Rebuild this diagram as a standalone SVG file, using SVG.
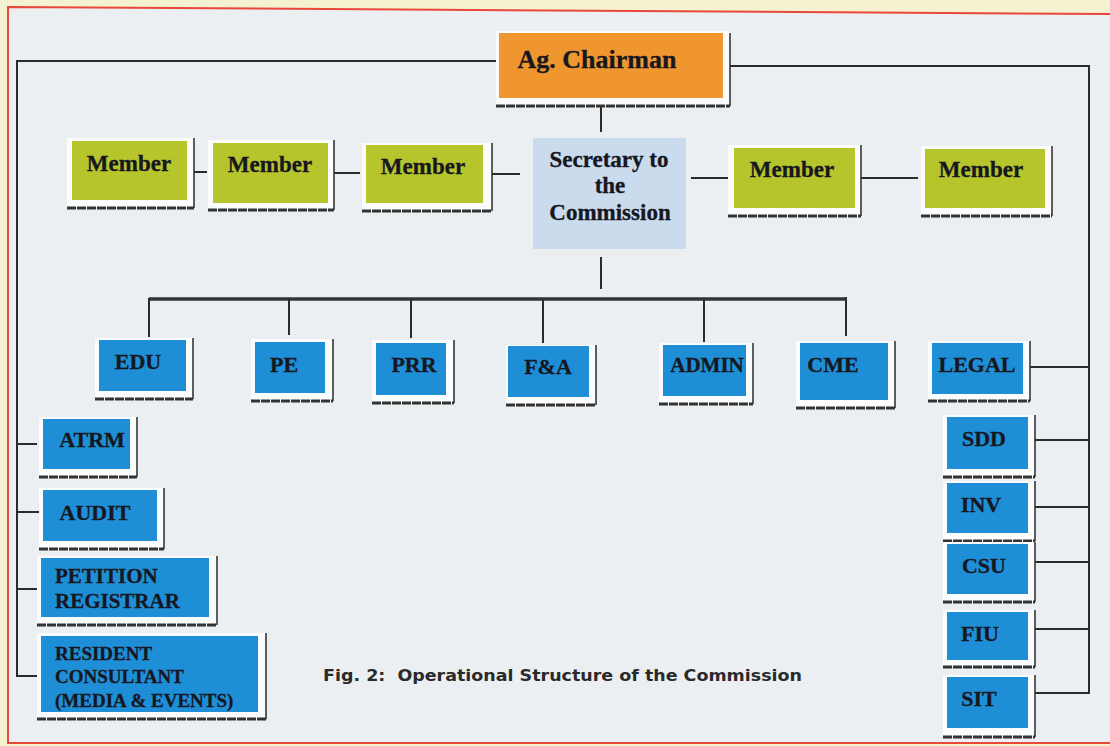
<svg xmlns="http://www.w3.org/2000/svg" width="1110" height="746" viewBox="0 0 1110 746">
<defs>
<style>
.bg{fill:#f5f2d2}
.frame{fill:#eceff2;stroke:#e8473a;stroke-width:2}
.back{fill:#fbfcfd}
.chair{fill:#f0962e}
.sec{fill:#c9dbec}
.mem{fill:#b6c52c}
.blue{fill:#1e8fd6}
.sh{fill:none;stroke:#353535;stroke-width:1.6}
.shb{fill:none;stroke:#333;stroke-width:3;stroke-dasharray:9 1}
.conn{fill:none;stroke:#2b2b2b;stroke-width:2}
.bar{fill:none;stroke:#333;stroke-width:3.5}
.t{font-family:"Liberation Serif","Times New Roman",serif;font-weight:bold;fill:#17171f;stroke:#17171f;stroke-width:0.3}
.c{text-anchor:middle}
.cap{font-family:"DejaVu Sans",Verdana,sans-serif;font-weight:bold;fill:#2a2a2a;font-size:16px}
</style>
</defs>
<rect class="bg" x="0" y="0" width="1110" height="746"/>
<path class="frame" d="M8 7 L1112 14 L1112 743 L8 743 Z"/>

<g id="connectors">
<path class="conn" d="M499 61 H17 V676 H40"/>
<path class="conn" d="M17 444 H37 M17 512 H40 M17 589 H40"/>
<path class="conn" d="M730 66 H1089 V693 H1035"/>
<path class="conn" d="M1030 367 H1089 M1035 440 H1089 M1035 507 H1089 M1035 562 H1089 M1035 629 H1089"/>
<path class="conn" d="M601 106 V132"/>
<path class="conn" d="M194 172 H207 M334 173 H360 M492 174 H520 M691 178 H728 M861 178 H918"/>
<path class="conn" d="M601 257 V289"/>
<path class="bar" d="M149 299 H846"/>
<path class="conn" d="M149 298 V337 M289 298 V335 M411 298 V338 M543 300 V343 M704 300 V342 M846 297 V336"/>
</g>

<g id="chairman">
<rect class="back" x="496" y="31" width="234" height="75"/>
<rect class="chair" x="499" y="33" width="224" height="65"/>
<path class="sh" d="M730 33 V106"/><path class="shb" d="M496 106 H730"/>
<text class="t c" x="597" y="68" font-size="26">Ag. Chairman</text>
</g>

<g id="secretary">
<rect class="sec" x="533" y="138" width="153" height="111"/>
<text class="t c" font-size="23"><tspan x="609" y="167">Secretary to</tspan><tspan x="610" y="193">the</tspan><tspan x="610" y="220">Commission</tspan></text>
</g>

<g id="member1">
<rect class="back" x="67" y="138" width="127" height="70"/>
<rect class="mem" x="72" y="141" width="115" height="59"/>
<path class="sh" d="M194 138 V208"/><path class="shb" d="M67 208 H194"/>
<text class="t c" x="129" y="171" font-size="23">Member</text>
</g>
<g id="member2">
<rect class="back" x="208" y="140" width="126" height="70"/>
<rect class="mem" x="213" y="143" width="115" height="60"/>
<path class="sh" d="M334 140 V210"/><path class="shb" d="M208 210 H334"/>
<text class="t c" x="270" y="172" font-size="23">Member</text>
</g>
<g id="member3">
<rect class="back" x="362" y="143" width="130" height="68"/>
<rect class="mem" x="366" y="145" width="117" height="58"/>
<path class="sh" d="M492 143 V211"/><path class="shb" d="M362 211 H492"/>
<text class="t c" x="423" y="174" font-size="23">Member</text>
</g>
<g id="member4">
<rect class="back" x="728" y="145" width="133" height="71"/>
<rect class="mem" x="734" y="148" width="121" height="60"/>
<path class="sh" d="M861 145 V216"/><path class="shb" d="M728 216 H861"/>
<text class="t c" x="792" y="177" font-size="23">Member</text>
</g>
<g id="member5">
<rect class="back" x="921" y="146" width="131" height="70"/>
<rect class="mem" x="925" y="149" width="120" height="59"/>
<path class="sh" d="M1052 146 V216"/><path class="shb" d="M921 216 H1052"/>
<text class="t c" x="981" y="177" font-size="23">Member</text>
</g>

<g id="edu">
<rect class="back" x="95" y="338" width="98" height="61"/>
<rect class="blue" x="99" y="340" width="87" height="51"/>
<path class="sh" d="M193 338 V399"/><path class="shb" d="M95 399 H193"/>
<text class="t c" x="138" y="369" font-size="22">EDU</text>
</g>
<g id="pe">
<rect class="back" x="251" y="339" width="82" height="62"/>
<rect class="blue" x="255" y="342" width="70" height="51"/>
<path class="sh" d="M333 339 V401"/><path class="shb" d="M251 401 H333"/>
<text class="t c" x="284" y="372" font-size="22">PE</text>
</g>
<g id="prr">
<rect class="back" x="372" y="340" width="82" height="63"/>
<rect class="blue" x="376" y="343" width="70" height="52"/>
<path class="sh" d="M454 340 V403"/><path class="shb" d="M372 403 H454"/>
<text class="t c" x="414" y="372" font-size="22">PRR</text>
</g>
<g id="fa">
<rect class="back" x="506" y="345" width="90" height="60"/>
<rect class="blue" x="508" y="346" width="81" height="51"/>
<path class="sh" d="M596 345 V405"/><path class="shb" d="M506 405 H596"/>
<text class="t c" x="548" y="374" font-size="22">F&amp;A</text>
</g>
<g id="admin">
<rect class="back" x="659" y="343" width="94" height="61"/>
<rect class="blue" x="663" y="345" width="83" height="51"/>
<path class="sh" d="M753 343 V404"/><path class="shb" d="M659 404 H753"/>
<text class="t c" x="707" y="372" font-size="21">ADMIN</text>
</g>
<g id="cme">
<rect class="back" x="796" y="341" width="99" height="67"/>
<rect class="blue" x="800" y="343" width="88" height="57"/>
<path class="sh" d="M895 341 V408"/><path class="shb" d="M796 408 H895"/>
<text class="t c" x="833" y="372" font-size="22">CME</text>
</g>
<g id="legal">
<rect class="back" x="928" y="341" width="102" height="60"/>
<rect class="blue" x="932" y="343" width="91" height="51"/>
<path class="sh" d="M1030 341 V401"/><path class="shb" d="M928 401 H1030"/>
<text class="t c" x="977" y="372" font-size="22">LEGAL</text>
</g>

<g id="atrm">
<rect class="back" x="39" y="417" width="98" height="60"/>
<rect class="blue" x="43" y="419" width="87" height="50"/>
<path class="sh" d="M137 417 V477"/><path class="shb" d="M39 477 H137"/>
<text class="t c" x="92" y="447" font-size="22">ATRM</text>
</g>
<g id="audit">
<rect class="back" x="39" y="488" width="125" height="61"/>
<rect class="blue" x="43" y="490" width="114" height="51"/>
<path class="sh" d="M164 488 V549"/><path class="shb" d="M39 549 H164"/>
<text class="t c" x="95" y="520" font-size="22">AUDIT</text>
</g>
<g id="petition">
<rect class="back" x="37" y="556" width="180" height="69"/>
<rect class="blue" x="41" y="558" width="168" height="59"/>
<path class="sh" d="M217 556 V625"/><path class="shb" d="M37 625 H217"/>
<text class="t" font-size="21"><tspan x="55" y="583">PETITION</tspan><tspan x="55" y="608">REGISTRAR</tspan></text>
</g>
<g id="resident">
<rect class="back" x="37" y="633" width="229" height="86"/>
<rect class="blue" x="41" y="636" width="217" height="76"/>
<path class="sh" d="M266 633 V719"/><path class="shb" d="M37 719 H266"/>
<text class="t" font-size="19"><tspan x="55" y="660">RESIDENT</tspan><tspan x="55" y="683">CONSULTANT</tspan><tspan x="55" y="707">(MEDIA &amp; EVENTS)</tspan></text>
</g>

<g id="sdd">
<rect class="back" x="943" y="415" width="92" height="62"/>
<rect class="blue" x="947" y="417" width="81" height="52"/>
<path class="sh" d="M1035 415 V477"/><path class="shb" d="M943 477 H1035"/>
<text class="t c" x="984" y="446" font-size="22">SDD</text>
</g>
<g id="inv">
<rect class="back" x="943" y="481" width="92" height="60"/>
<rect class="blue" x="947" y="483" width="81" height="50"/>
<path class="sh" d="M1035 481 V541"/><path class="shb" d="M943 541 H1035"/>
<text class="t c" x="981" y="512" font-size="22">INV</text>
</g>
<g id="csu">
<rect class="back" x="943" y="542" width="92" height="60"/>
<rect class="blue" x="947" y="544" width="81" height="50"/>
<path class="sh" d="M1035 542 V602"/><path class="shb" d="M943 602 H1035"/>
<text class="t c" x="984" y="573" font-size="22">CSU</text>
</g>
<g id="fiu">
<rect class="back" x="943" y="610" width="92" height="57"/>
<rect class="blue" x="947" y="612" width="81" height="48"/>
<path class="sh" d="M1035 610 V667"/><path class="shb" d="M943 667 H1035"/>
<text class="t c" x="980" y="641" font-size="22">FIU</text>
</g>
<g id="sit">
<rect class="back" x="943" y="675" width="92" height="62"/>
<rect class="blue" x="947" y="677" width="81" height="51"/>
<path class="sh" d="M1035 675 V737"/><path class="shb" d="M943 737 H1035"/>
<text class="t c" x="979" y="706" font-size="22">SIT</text>
</g>

<g id="caption">
<text class="cap" x="323" y="681" textLength="479" lengthAdjust="spacingAndGlyphs" xml:space="preserve">Fig. 2:  Operational Structure of the Commission</text>
</g>
</svg>
